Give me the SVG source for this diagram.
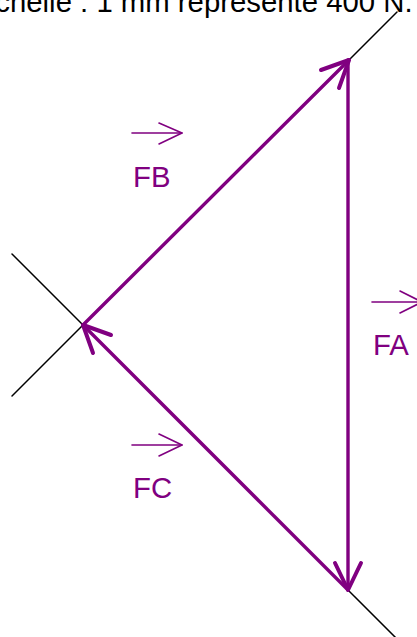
<svg xmlns="http://www.w3.org/2000/svg" width="417" height="637" viewBox="0 0 417 637">
<style>
.ref{stroke:#000;stroke-width:1.5;fill:none;stroke-linecap:round}
.vec{stroke:#800080;stroke-width:3.4;fill:none;stroke-linecap:round}
.head{stroke:#800080;stroke-width:4;fill:none;stroke-linecap:round;stroke-linejoin:round}
.sm{stroke:#800080;stroke-width:1.6;fill:none;stroke-linecap:round;stroke-linejoin:round}
.lbl{font-family:"Liberation Sans",Arial,sans-serif;font-size:29.33px;fill:#800080}
.title{font-family:"Liberation Sans",Arial,sans-serif;font-size:29.33px;fill:#000}
</style>
<rect width="417" height="637" fill="#fff"/>
<text class="title" x="-21" y="12">échelle : 1 mm représente 400 N.</text>
<g id="lines-of-action">
<line class="ref" x1="349" y1="60" x2="397" y2="12"/>
<line class="ref" x1="12" y1="254" x2="83" y2="325"/>
<line class="ref" x1="83" y1="325" x2="12" y2="396"/>
<line class="ref" x1="348" y1="590" x2="396" y2="638"/>
</g>
<g id="connectors">
<g id="FB-vector">
<line class="vec" x1="83" y1="325" x2="349" y2="60"/>
<polyline class="head" points="321,70 349,60 339,88"/>
</g>
<g id="FA-vector">
<line class="vec" x1="348" y1="60" x2="348" y2="590"/>
<polyline class="head" points="335,563 348,590 361,563"/>
</g>
<g id="FC-vector">
<line class="vec" x1="348" y1="590" x2="83" y2="325"/>
<polyline class="head" points="111,335 83,325 93,353"/>
</g>
</g>
<g id="label-FB">
<polyline class="sm" points="132,133 182,133"/>
<polyline class="sm" points="159,123 182,133 159,144"/>
<text class="lbl" x="133" y="187">FB</text>
</g>
<g id="label-FA">
<polyline class="sm" points="372,302 422,302"/>
<polyline class="sm" points="400,291 422,302 400,313"/>
<text class="lbl" x="373" y="355">FA</text>
</g>
<g id="label-FC">
<polyline class="sm" points="132,445 182,445"/>
<polyline class="sm" points="159,434 182,445 159,456"/>
<text class="lbl" x="133" y="498">FC</text>
</g>
</svg>
